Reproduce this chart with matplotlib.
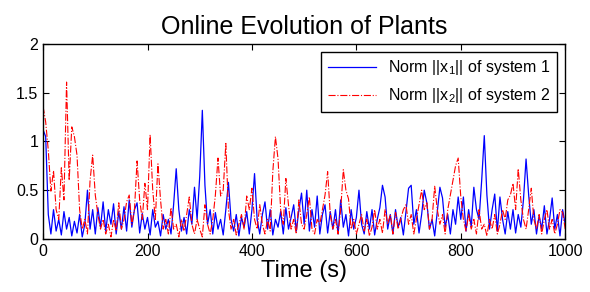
import numpy as np
import matplotlib
matplotlib.use('Agg')
import matplotlib.pyplot as plt

plt.rcParams['font.family'] = ['Liberation Sans', 'DejaVu Sans']
plt.rcParams['mathtext.fontset'] = 'custom'
plt.rcParams['mathtext.rm'] = 'Liberation Sans'
plt.rcParams['mathtext.it'] = 'Liberation Sans:italic'

# sample times (s), one value every 5 s
time = np.arange(0, 1001, 5)

# norm of the state of system 1
norm_x1 = [
    1.12, 1.05, 0.25, 0.05, 0.30, 0.08, 0.20, 0.04, 0.28, 0.10,
    0.22, 0.03, 0.18, 0.06, 0.25, 0.02, 0.15, 0.50, 0.10, 0.30,
    0.05, 0.32, 0.12, 0.38, 0.08, 0.30, 0.15, 0.36, 0.05, 0.28,
    0.10, 0.33, 0.08, 0.40, 0.12, 0.30, 0.37, 0.06, 0.26, 0.10,
    0.22, 0.04, 0.30, 0.12, 0.18, 0.03, 0.25, 0.10, 0.20, 0.05,
    0.35, 0.72, 0.30, 0.08, 0.22, 0.05, 0.30, 0.15, 0.53, 0.20,
    0.64, 1.32, 0.55, 0.15, 0.30, 0.05, 0.27, 0.10, 0.20, 0.04,
    0.30, 0.58, 0.20, 0.08, 0.25, 0.03, 0.22, 0.12, 0.28, 0.05,
    0.30, 0.67, 0.20, 0.05, 0.25, 0.38, 0.10, 0.30, 0.04, 0.20,
    0.12, 0.28, 0.05, 0.32, 0.10, 0.22, 0.35, 0.08, 0.30, 0.47,
    0.15, 0.50, 0.08, 0.30, 0.12, 0.44, 0.05, 0.25, 0.35, 0.06,
    0.28, 0.10, 0.30, 0.05, 0.40, 0.12, 0.25, 0.03, 0.30, 0.10,
    0.22, 0.50, 0.15, 0.05, 0.28, 0.10, 0.30, 0.04, 0.20, 0.32,
    0.55, 0.43, 0.10, 0.25, 0.05, 0.30, 0.12, 0.22, 0.04, 0.28,
    0.52, 0.55, 0.15, 0.30, 0.06, 0.25, 0.50, 0.37, 0.10, 0.20,
    0.03, 0.28, 0.53, 0.42, 0.12, 0.25, 0.05, 0.30, 0.15, 0.43,
    0.20, 0.43, 0.08, 0.30, 0.12, 0.53, 0.30, 0.20, 0.60, 1.06,
    0.45, 0.10, 0.30, 0.46, 0.08, 0.43, 0.20, 0.05, 0.28, 0.10,
    0.30, 0.06, 0.25, 0.12, 0.40, 0.82, 0.45, 0.15, 0.30, 0.05,
    0.24, 0.10, 0.34, 0.05, 0.20, 0.42, 0.10, 0.25, 0.03, 0.30,
    0.15,
]

# norm of the state of system 2
norm_x2 = [
    1.36, 1.20, 0.91, 0.49, 0.70, 0.30, 0.20, 0.73, 0.40, 1.61,
    0.60, 1.15, 1.05, 0.86, 0.30, 0.10, 0.20, 0.05, 0.60, 0.86,
    0.45, 0.25, 0.10, 0.20, 0.05, 0.15, 0.02, 0.20, 0.08, 0.37,
    0.10, 0.20, 0.38, 0.45, 0.15, 0.30, 0.80, 0.40, 0.20, 0.57,
    0.30, 1.07, 0.50, 0.20, 0.77, 0.40, 0.10, 0.20, 0.05, 0.32,
    0.10, 0.15, 0.02, 0.20, 0.08, 0.25, 0.43, 0.15, 0.05, 0.20,
    0.10, 0.02, 0.35, 0.15, 0.05, 0.20, 0.45, 0.83, 0.44, 0.50,
    0.98, 0.30, 0.10, 0.20, 0.04, 0.15, 0.25, 0.10, 0.44, 0.30,
    0.52, 0.20, 0.10, 0.35, 0.15, 0.05, 0.20, 0.08, 0.69, 1.05,
    0.82, 0.30, 0.15, 0.62, 0.35, 0.10, 0.20, 0.05, 0.40, 0.15,
    0.10, 0.25, 0.43, 0.10, 0.05, 0.20, 0.15, 0.30, 0.45, 0.69,
    0.25, 0.10, 0.20, 0.05, 0.30, 0.71, 0.50, 0.41, 0.10, 0.20,
    0.05, 0.15, 0.25, 0.08, 0.20, 0.03, 0.12, 0.30, 0.10, 0.20,
    0.06, 0.30, 0.15, 0.25, 0.05, 0.27, 0.10, 0.20, 0.30, 0.35,
    0.15, 0.25, 0.05, 0.20, 0.35, 0.50, 0.30, 0.37, 0.10, 0.20,
    0.54, 0.30, 0.15, 0.25, 0.05, 0.30, 0.45, 0.60, 0.75, 0.83,
    0.43, 0.20, 0.08, 0.25, 0.10, 0.20, 0.05, 0.30, 0.10, 0.15,
    0.03, 0.20, 0.10, 0.25, 0.05, 0.15, 0.30, 0.20, 0.40, 0.45,
    0.57, 0.30, 0.72, 0.40, 0.20, 0.10, 0.30, 0.52, 0.20, 0.10,
    0.25, 0.05, 0.20, 0.30, 0.10, 0.20, 0.05, 0.15, 0.30, 0.27,
    0.10,
]

xticks = [0, 200, 400, 600, 800, 1000]
yticks = [0, 0.5, 1, 1.5, 2]
ytick_labels = ['0', '0.5', '1', '1.5', '2']

fig = plt.figure(figsize=(5.9, 2.92), dpi=100)
ax = fig.add_axes([0.073, 0.182, 0.885, 0.667])

ax.plot(time, norm_x1, color='#0000ff', lw=0.9, label='Norm ||x$_1$|| of system 1')
ax.plot(time, norm_x2, color='#ff0000', lw=0.8, ls='-.', label='Norm ||x$_2$|| of system 2')

ax.set_xlim(0, 1000)
ax.set_ylim(0, 2)
ax.set_xticks(xticks)
ax.set_yticks(yticks)
ax.set_yticklabels(ytick_labels)
ax.tick_params(direction='in', top=True, right=True, labelsize=11.5, length=4, width=0.8)
for s in ax.spines.values():
    s.set_linewidth(1.0)

ax.set_title('Online Evolution of Plants', fontsize=18, pad=7)
ax.set_xlabel('Time (s)', fontsize=17, labelpad=1)

leg = ax.legend(loc='upper right', fontsize=11.5, fancybox=False, framealpha=1,
                edgecolor='black', borderaxespad=0.5, handlelength=3.0,
                borderpad=0.4, labelspacing=0.55)
leg.get_frame().set_linewidth(1.0)

fig.savefig('out.png', dpi=100)
